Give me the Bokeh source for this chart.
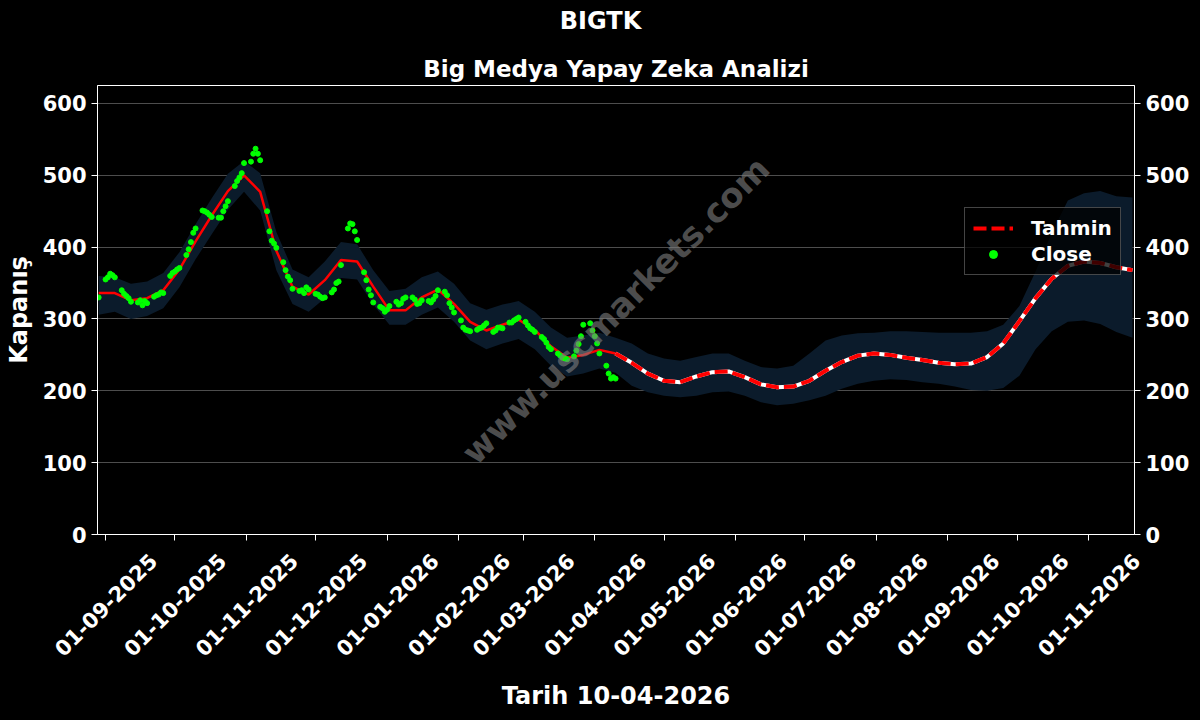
import math
import pandas as pd
from bokeh.plotting import figure
from bokeh.layouts import column
from bokeh.core.properties import value
from bokeh.models import (LinearAxis, Range1d, MonthsTicker, FixedTicker, Legend, LegendItem,
                          Label, LabelSet, ColumnDataSource, CustomJSTickFormatter)
from bokeh.embed import file_html
from bokeh.resources import INLINE

# ---------------- data ----------------
close_start = "2025-08-29"
close_end = "2026-04-10"
close_values = [
    330,
    355, 358, 363, 361, 358,
    340, 335, 332, 329, 324,
    323, 326, 319, 325, 322,
    331, 333, 334, 337, 336,
    360, 364, 366, 369, 371,
    389, 397, 407, 420, 426,
    451, 450, 448, 445, 442,
    441, 441, 450, 457, 464,
    485, 492, 497, 503, 517,
    519, 530, 537, 530, 521,
    450, 422, 409, 405, 399,
    379, 368, 359, 354, 342,
    339, 340, 336, 344, 341,
    335, 334, 331, 329, 330,
    337, 341, 350, 352, 375,
    426, 433, 432, 422, 410,
    365, 354, 341, 333, 323,
    317, 315, 310, 313, 318,
    324, 320, 322, 328, 330,
    330, 327, 321, 322, 326,
    325, 323, 327, 332, 340,
    338, 333, 322, 316, 309,
    298, 288, 285, 284, 283,
    285, 287, 288, 291, 294,
    282, 284, 288, 288, 287,
    295, 295, 298, 300, 302,
    296, 291, 287, 285, 282,
    275, 272, 267, 261, 258,
    252, 249, 246, 245, 244,
    248, 256, 265, 276, 292,
    294, 284, 276, 266, 252,
    235, 224, 217, 219, 217,
]

tahmin_start = "2025-08-29"   # weekly points
tahmin_values = [
    336, 336, 326, 329, 340, 369, 408, 444, 478, 500,
    477, 395, 345, 334, 354, 382, 380, 345, 312, 312,
    330, 341, 321, 296, 284, 292, 299, 285, 262, 246,
    250, 257, 252, 239, 224, 214, 212, 220, 226, 227,
    219, 209, 205, 206, 214, 228, 240, 249, 252, 250,
    246, 243, 239, 237, 238, 247, 266, 297, 329, 356,
    374, 380, 378, 372, 368,
]
band_upper = [
    360, 358, 349, 352, 364, 393, 432, 468, 502, 520,
    503, 421, 369, 358, 380, 407, 404, 368, 339, 342,
    358, 366, 349, 322, 313, 320, 325, 310, 288, 274,
    277, 281, 274, 266, 252, 245, 242, 247, 252, 252,
    242, 233, 231, 235, 252, 270, 277, 280, 281, 283,
    283, 282, 281, 281, 281, 283, 292, 318, 366, 420,
    465, 475, 478, 471, 469,
]
band_lower = [
    306, 310, 300, 304, 315, 344, 383, 418, 452, 477,
    451, 368, 321, 310, 329, 357, 355, 320, 292, 292,
    306, 316, 296, 270, 258, 266, 272, 258, 235, 220,
    224, 231, 225, 207, 198, 193, 191, 193, 198, 199,
    193, 184, 180, 182, 187, 193, 203, 210, 214, 216,
    215, 212, 210, 206, 201, 200, 204, 221, 258, 283,
    296, 298, 293, 282, 274,
]
forecast_start_index = 32          # 10-04-2026
y_ticks = [0, 100, 200, 300, 400, 500, 600]
x_tick_labels = ["01-09-2025", "01-10-2025", "01-11-2025", "01-12-2025",
                 "01-01-2026", "01-02-2026", "01-03-2026", "01-04-2026",
                 "01-05-2026", "01-06-2026", "01-07-2026", "01-08-2026",
                 "01-09-2026", "01-10-2026", "01-11-2026"]

close_dates = pd.bdate_range(close_start, close_end)
tahmin_dates = pd.date_range(tahmin_start, periods=len(tahmin_values), freq="7D")
x_tick_dates = pd.to_datetime(x_tick_labels, format="%d-%m-%Y")
assert len(close_dates) == len(close_values)

FONT = "DejaVu Sans"
BG = "black"

# ---------------- layout geometry ----------------
W = 1200
TOP_H = 85
MAIN_H = 462
BOTTOM_H = 720 - TOP_H - MAIN_H
BOTTOM_Y0 = TOP_H + MAIN_H          # page y of the bottom strip's top edge
B_LEFT, B_RIGHT, B_BOTTOM = 97, 66, 13
X_START = pd.Timestamp("2025-08-28 12:00")
X_END = pd.Timestamp("2026-11-20 21:00")


def strip(height, x_range):
    f = figure(width=W, height=height, title=None, x_axis_location=None, y_axis_location=None,
               output_backend="svg", toolbar_location=None,
               x_range=x_range, y_range=Range1d(0, height),
               min_border=0, min_border_left=0, min_border_right=0,
               min_border_top=0, min_border_bottom=0,
               background_fill_color=BG, border_fill_color=BG, outline_line_color=None)
    f.grid.visible = False
    f.frame_align = False
    return f


# ---------------- top strip: titles ----------------
t = strip(TOP_H, Range1d(0, W))
t.add_layout(Label(x=600, y=TOP_H - 20, x_units="screen", y_units="screen", text="BIGTK",
                   text_align="center", text_baseline="middle", text_color="white",
                   text_font=FONT, text_font_size="24px", text_font_style="bold"))
t.add_layout(Label(x=615.5, y=TOP_H - 68, x_units="screen", y_units="screen",
                   text="Big Medya Yapay Zeka Analizi",
                   text_align="center", text_baseline="middle", text_color="white",
                   text_font=FONT, text_font_size="23px", text_font_style="bold"))

# ---------------- main plot ----------------
p = figure(width=W, height=MAIN_H, x_axis_type="datetime", title=None,
           output_backend="svg", toolbar_location=None,
           x_range=Range1d(X_START, X_END), y_range=Range1d(0, 625),
           min_border_left=B_LEFT, min_border_right=B_RIGHT,
           min_border_top=0, min_border_bottom=B_BOTTOM,
           background_fill_color=BG, border_fill_color=BG,
           outline_line_color="white", outline_line_width=1)
p.frame_align = False

# band
p.varea(x=tahmin_dates, y1=band_lower, y2=band_upper, fill_color="#0b1b2b", fill_alpha=1.0)

# fitted / forecast
fi = forecast_start_index
p.line(tahmin_dates[:fi + 1], tahmin_values[:fi + 1], line_color="red", line_width=2.5)
p.line(tahmin_dates[fi:], tahmin_values[fi:], line_color="white", line_width=4)
fc = p.line(tahmin_dates[fi:], tahmin_values[fi:], line_color="red", line_width=4, line_dash="13 5")

sc = p.scatter(close_dates, close_values, size=5, fill_color="lime", line_color="lime")

# watermark
p.add_layout(Label(x=pd.Timestamp("2026-04-10"), y=312, text="www.uscmarkets.com",
                   angle=45, angle_units="deg", text_align="center", text_baseline="middle",
                   text_color="gray", text_alpha=0.6, text_font=FONT,
                   text_font_size="34px", text_font_style="bold"))

# axes
yt = FixedTicker(ticks=y_ticks)
p.yaxis.ticker = yt
p.ygrid.ticker = yt
p.add_layout(LinearAxis(ticker=yt), "right")

p.xaxis.ticker = MonthsTicker(months=list(range(1, 13)))
p.xaxis.formatter = CustomJSTickFormatter(code="return ''")

for ax in p.xaxis + p.yaxis:
    ax.axis_line_color = "white"
    ax.major_tick_line_color = "white"
    ax.major_tick_out = 6
    ax.major_tick_in = 0
    ax.minor_tick_line_color = None
    ax.major_label_text_color = "white"
    ax.major_label_text_font = FONT
    ax.major_label_text_font_style = "bold"
    ax.major_label_standoff = 5
    ax.axis_label_text_color = "white"
    ax.axis_label_text_font = FONT
    ax.axis_label_text_font_size = "24px"
    ax.axis_label_text_font_style = "bold"
for ax in p.yaxis:
    ax.major_label_text_font_size = "21px"
p.xaxis.major_label_text_font_size = "1px"
p.xaxis.major_label_standoff = 0

p.yaxis[0].axis_label = "Kapanış"
p.yaxis[0].axis_label_standoff = 7

p.xgrid.visible = False
p.ygrid.grid_line_color = "white"
p.ygrid.grid_line_alpha = 0.3

legend = Legend(items=[LegendItem(label="Tahmin", renderers=[fc]),
                       LegendItem(label="Close", renderers=[sc])],
                location=(867, 259))
legend.label_text_color = "white"
legend.label_text_font = FONT
legend.label_text_font_size = "20px"
legend.label_text_font_style = "bold"
legend.background_fill_color = "black"
legend.background_fill_alpha = 0.75
legend.border_line_color = "#888888"
legend.border_line_width = 1
legend.padding = 8
legend.spacing = 2
legend.margin = 0
legend.glyph_width = 40
legend.glyph_height = 20
legend.label_standoff = 18
p.add_layout(legend)

# ---------------- bottom strip: rotated date labels + x axis title ----------------
frame_w = W - B_LEFT - B_RIGHT
day_px = frame_w / ((X_END - X_START) / pd.Timedelta(days=1))
q_start = X_START - pd.Timedelta(days=B_LEFT / day_px)
q_end = X_END + pd.Timedelta(days=B_RIGHT / day_px)

q = strip(BOTTOM_H, Range1d(q_start, q_end))
tick_src = ColumnDataSource(dict(x=x_tick_dates,
                                 y=[BOTTOM_H - (604 - BOTTOM_Y0)] * len(x_tick_labels),
                                 text=x_tick_labels))
q.add_layout(LabelSet(x="x", y="y", text="text", source=tick_src,
                      angle=45, angle_units="deg", text_align="center", text_baseline="middle",
                      text_color=value("white"), text_font=value(FONT),
                      text_font_size=value("21px"), text_font_style=value("bold")))
q.add_layout(Label(x=B_LEFT + frame_w / 2, y=BOTTOM_H - (695 - BOTTOM_Y0),
                   x_units="screen", y_units="screen",
                   text="Tarih 10-04-2026", text_align="center", text_baseline="middle",
                   text_color="white", text_font=FONT, text_font_size="24px",
                   text_font_style="bold"))

layout = column(t, p, q, spacing=0)

html = file_html(layout, INLINE)
html = html.replace("<head>", "<head><style>html,body{background:#000;}</style>", 1)
open("out.html", "w").write(html)
